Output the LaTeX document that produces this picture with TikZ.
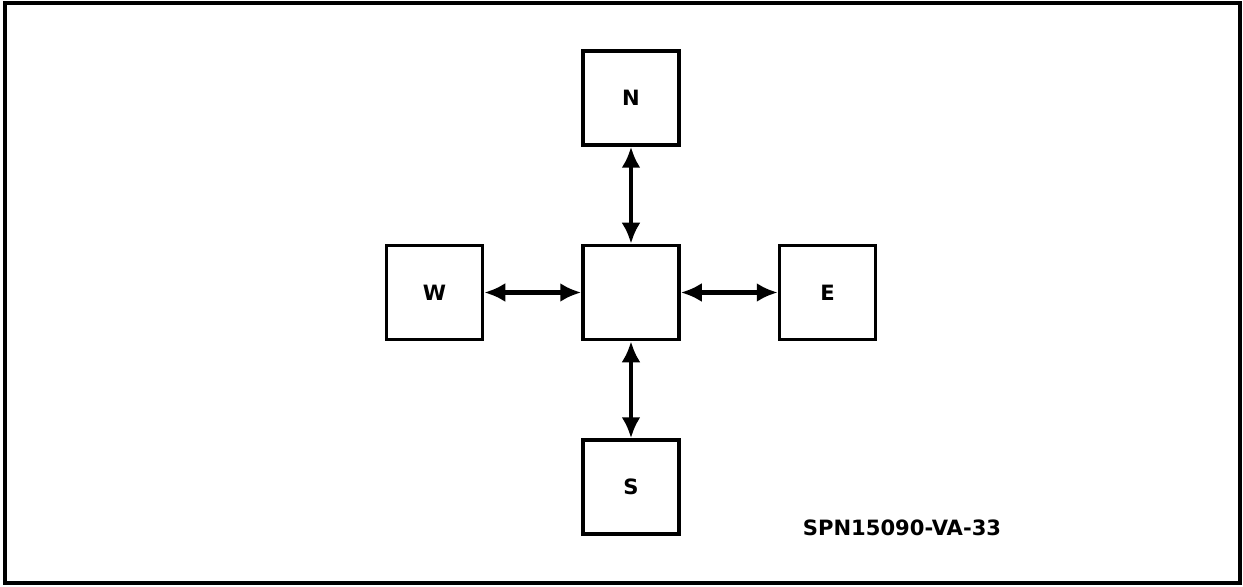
\documentclass[tikz,border=0pt]{standalone}
\usepackage{fontspec}
\setsansfont{DejaVu Sans}
\usepackage{tikz}
\usetikzlibrary{arrows.meta,positioning}

\begin{document}
\begin{tikzpicture}[
  cell/.style={draw, line width=2pt, minimum width=1.92cm, minimum height=1.88cm, inner sep=0pt, font=\sffamily\bfseries\fontsize{12}{14}\selectfont},
  link/.style={line width=2.4pt, {Latex[length=4.2mm,width=3.8mm]}-{Latex[length=4.2mm,width=3.8mm]}},
  tag/.style={font=\sffamily\bfseries\fontsize{12}{14}\selectfont, anchor=center},
]

\def\cellgap{1.94cm}

\useasboundingbox (0,0) rectangle (24.86,11.72);
\draw[line width=1.8pt] (0.1,0.06) rectangle (24.8,11.66);

% --- centre and its four neighbours ---
\node[cell] (c) at (12.62,5.87) {};
\node[cell, above=\cellgap of c] (n) {N};
\node[cell, below=\cellgap of c] (s) {S};
\node[cell, left=\cellgap of c] (w) {W};
\node[cell, right=\cellgap of c] (e) {E};

% --- links ---
\draw[link] (n) -- (c);
\draw[link] (c) -- (s);
\draw[link] (w) -- (c);
\draw[link] (c) -- (e);

\node[tag] (id) at (18.04,1.16) {SPN15090-VA-33};

\end{tikzpicture}
\end{document}
